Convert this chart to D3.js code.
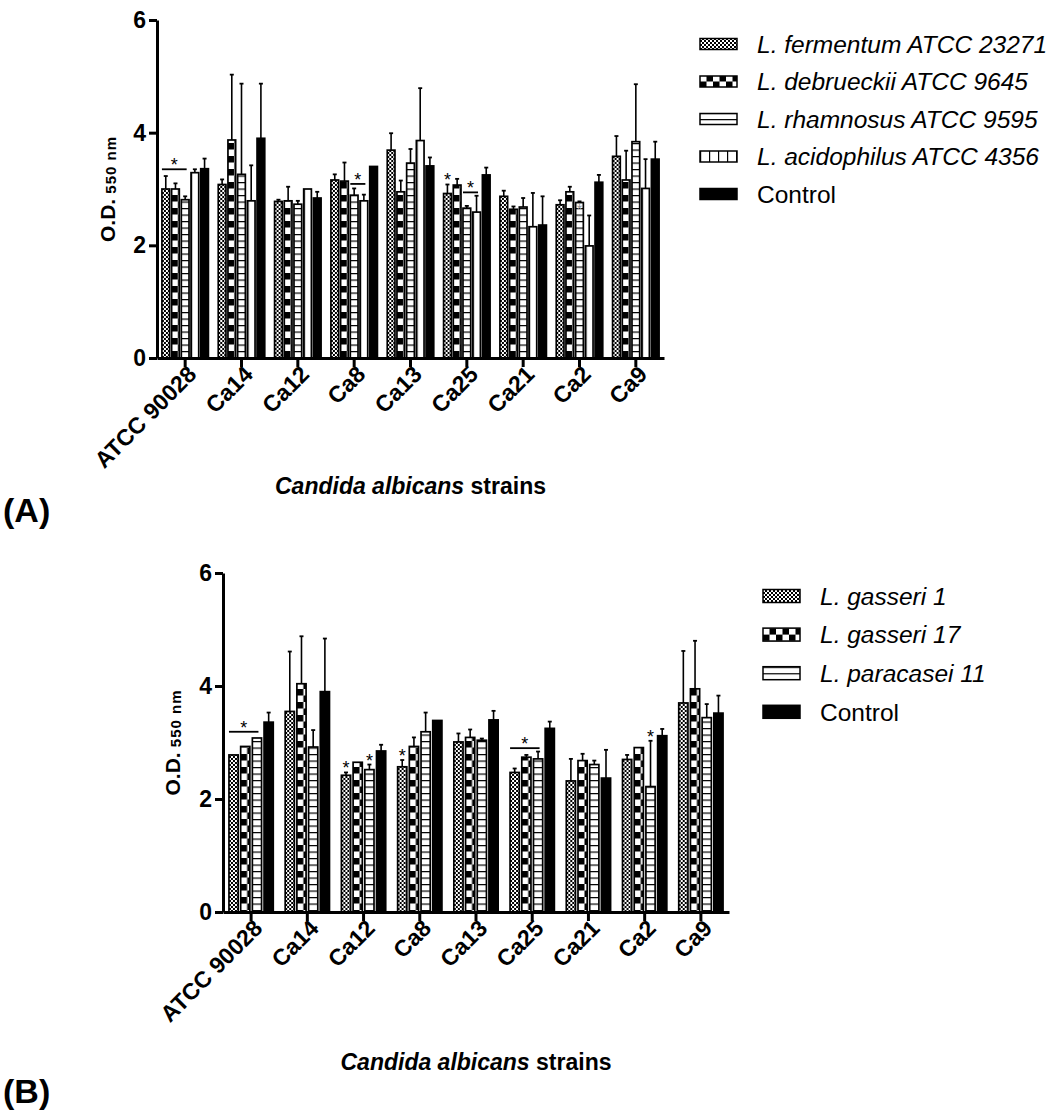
<!DOCTYPE html>
<html>
<head>
<meta charset="utf-8">
<script src="https://cdn.jsdelivr.net/npm/d3@7"></script>
<style>
  body { margin: 0; background: #fff; }
  text { font-family: "Liberation Sans", Arial, sans-serif; }
</style>
</head>
<body>
<div id="chart"></div>
<script>
// strains on the x axis (same for both panels)
var strains = ['ATCC 90028', 'Ca14', 'Ca12', 'Ca8', 'Ca13', 'Ca25', 'Ca21', 'Ca2', 'Ca9'];
var yTicks = [0, 2, 4, 6];

// panel A
var seriesA = ['L. fermentum ATCC 23271', 'L. debrueckii ATCC 9645', 'L. rhamnosus ATCC 9595', 'L. acidophilus ATCC 4356', 'Control'];
var fermentum     = [3.00, 3.08, 2.78, 3.16, 3.69, 2.92, 2.87, 2.72, 3.58];
var fermentumSD   = [0.23, 0.09, 0.03, 0.10, 0.30, 0.16, 0.10, 0.08, 0.36];
var debrueckii    = [3.00, 3.87, 2.79, 3.14, 2.95, 3.07, 2.64, 2.95, 3.16];
var debrueckiiSD  = [0.10, 1.16, 0.25, 0.33, 0.20, 0.11, 0.05, 0.09, 0.52];
var rhamnosus     = [2.81, 3.26, 2.73, 2.89, 3.46, 2.66, 2.68, 2.76, 3.84];
var rhamnosusSD   = [0.06, 1.61, 0.06, 0.12, 0.25, 0.04, 0.16, 0.02, 1.02];
var acidophilus   = [3.29, 2.79, 3.00, 2.79, 3.86, 2.59, 2.33, 1.99, 3.01];
var acidophilusSD = [0.06, 0.63, 0.00, 0.11, 0.93, 0.29, 0.60, 0.54, 0.52];
var controlA      = [3.36, 3.90, 2.84, 3.40, 3.41, 3.25, 2.36, 3.12, 3.53];
var controlASD    = [0.18, 0.97, 0.11, 0.00, 0.15, 0.13, 0.51, 0.13, 0.31];
var sigLinesA = [
  {strain: 'ATCC 90028', from: 0, to: 2, level: 3.35},
  {strain: 'Ca8', from: 2, to: 3, level: 3.09},
  {strain: 'Ca25', from: 2, to: 3, level: 2.94}
];
var sigStarsA = [
  {strain: 'Ca25', series: 0},
  {strain: 'Ca2', series: 2, faint: true}
];

// panel B
var seriesB = ['L. gasseri 1', 'L. gasseri 17', 'L. paracasei 11', 'Control'];
var gasseri1      = [2.78, 3.55, 2.42, 2.57, 3.01, 2.47, 2.32, 2.70, 3.70];
var gasseri1SD    = [0.00, 1.06, 0.05, 0.12, 0.15, 0.07, 0.39, 0.08, 0.92];
var gasseri17     = [2.93, 4.04, 2.65, 2.93, 3.09, 2.74, 2.68, 2.91, 3.95];
var gasseri17SD   = [0.00, 0.84, 0.00, 0.16, 0.14, 0.04, 0.12, 0.00, 0.85];
var paracasei11   = [3.08, 2.92, 2.52, 3.19, 3.04, 2.71, 2.61, 2.22, 3.44];
var paracasei11SD = [0.00, 0.30, 0.09, 0.34, 0.03, 0.13, 0.07, 0.81, 0.24];
var controlB      = [3.36, 3.90, 2.85, 3.39, 3.40, 3.25, 2.37, 3.12, 3.52];
var controlBSD    = [0.17, 0.94, 0.11, 0.00, 0.16, 0.12, 0.50, 0.12, 0.31];
var sigLinesB = [
  {strain: 'ATCC 90028', from: 0, to: 2, level: 3.19},
  {strain: 'Ca25', from: 0, to: 2, level: 2.90}
];
var sigStarsB = [
  {strain: 'Ca12', series: 0},
  {strain: 'Ca12', series: 2},
  {strain: 'Ca8', series: 0},
  {strain: 'Ca2', series: 2}
];

var svg = d3.select('#chart').append('svg')
  .attr('width', 1059)
  .attr('height', 1111);

// fill patterns
var defs = svg.append('defs');
var p = defs.append('pattern').attr('id', 'fine').attr('patternUnits', 'userSpaceOnUse')
  .attr('width', 4).attr('height', 4);
p.append('rect').attr('width', 4).attr('height', 4).attr('fill', '#fff');
p.append('rect').attr('width', 2).attr('height', 2).attr('fill', '#000');
p.append('rect').attr('x', 2).attr('y', 2).attr('width', 2).attr('height', 2).attr('fill', '#000');

p = defs.append('pattern').attr('id', 'check').attr('patternUnits', 'userSpaceOnUse')
  .attr('width', 13).attr('height', 13);
p.append('rect').attr('width', 13).attr('height', 13).attr('fill', '#fff');
p.append('rect').attr('width', 6.5).attr('height', 6.5).attr('fill', '#000');
p.append('rect').attr('x', 6.5).attr('y', 6.5).attr('width', 6.5).attr('height', 6.5).attr('fill', '#000');

p = defs.append('pattern').attr('id', 'hlines').attr('patternUnits', 'userSpaceOnUse')
  .attr('width', 10).attr('height', 6.5);
p.append('rect').attr('width', 10).attr('height', 6.5).attr('fill', '#fff');
p.append('line').attr('x1', 0).attr('x2', 10).attr('y1', 0.6).attr('y2', 0.6)
  .attr('stroke', '#000').attr('stroke-width', 1.2);

p = defs.append('pattern').attr('id', 'vlines').attr('patternUnits', 'userSpaceOnUse')
  .attr('width', 9).attr('height', 10);
p.append('rect').attr('width', 9).attr('height', 10).attr('fill', '#fff');
p.append('line').attr('x1', 0.6).attr('x2', 0.6).attr('y1', 0).attr('y2', 10)
  .attr('stroke', '#000').attr('stroke-width', 1.2);

function fillOf(f) { return f == 'solid' ? '#000' : 'url(#' + f + ')'; }

function drawPanel(cfg) {
  var x = d3.scaleBand().domain(strains).range([cfg.left, cfg.right]);
  var y = d3.scaleLinear().domain([0, 6]).range([cfg.bottom, cfg.top]);
  var inner = d3.scaleBand().domain(d3.range(cfg.series.length))
    .range([-cfg.groupW / 2, cfg.groupW / 2]).paddingInner(cfg.gap);
  var bw = inner.bandwidth();

  function barX(strain, s) { return x(strain) + x.bandwidth() / 2 + inner(s); }

  // bars
  cfg.series.forEach(function(name, s) {
    var rows = strains.map(function(st, i) {
      return {strain: st, v: cfg.means[s][i], sd: cfg.sds[s][i]};
    });
    var g = svg.append('g');
    var bars = g.selectAll('g.bar').data(rows).enter().append('g')
      .attr('transform', function(d) { return 'translate(' + barX(d.strain, s) + ',0)'; });
    bars.append('rect')
      .attr('x', 0)
      .attr('y', function(d) { return y(d.v); })
      .attr('width', bw)
      .attr('height', function(d) { return y(0) - y(d.v); })
      .attr('fill', fillOf(cfg.fills[s]))
      .attr('stroke', '#000')
      .attr('stroke-width', 1.7);
    // upper error bars
    var eb = bars.filter(function(d) { return d.sd > 0; });
    eb.append('line')
      .attr('x1', bw / 2).attr('x2', bw / 2)
      .attr('y1', function(d) { return y(d.v); })
      .attr('y2', function(d) { return y(d.v + d.sd); })
      .attr('stroke', '#000').attr('stroke-width', 1.6);
    eb.append('line')
      .attr('x1', bw / 2 - 2).attr('x2', bw / 2 + 2)
      .attr('y1', function(d) { return y(d.v + d.sd); })
      .attr('y2', function(d) { return y(d.v + d.sd); })
      .attr('stroke', '#000').attr('stroke-width', 1.8);
  });

  // significance lines and stars
  cfg.sigLines.forEach(function(d) {
    var x1 = barX(d.strain, d.from);
    var x2 = barX(d.strain, d.to) + bw / 2 + 1.5;
    svg.append('line')
      .attr('x1', x1).attr('x2', x2)
      .attr('y1', y(d.level)).attr('y2', y(d.level))
      .attr('stroke', '#000').attr('stroke-width', 1.8);
    svg.append('text')
      .attr('x', (x1 + x2) / 2).attr('y', y(d.level) - 7 + 9)
      .attr('text-anchor', 'middle').attr('font-size', 18)
      .text('*');
  });
  cfg.sigStars.forEach(function(d) {
    var s = d.series, i = strains.indexOf(d.strain);
    var top = d.faint ? y(cfg.means[s][i]) + 2 : y(cfg.means[s][i] + cfg.sds[s][i]) - 7;
    svg.append('text')
      .attr('x', barX(d.strain, s) + bw / 2).attr('y', top + 9)
      .attr('text-anchor', 'middle').attr('font-size', d.faint ? 14 : 18)
      .attr('fill', d.faint ? '#999' : '#000')
      .text('*');
  });

  // axes
  var yAxis = d3.axisLeft(y).tickValues(yTicks).tickFormat(d3.format('d'))
    .tickSize(8).tickPadding(3).tickSizeOuter(0);
  var gy = svg.append('g')
    .attr('transform', 'translate(' + cfg.left + ',0)')
    .call(yAxis);
  var xAxis = d3.axisBottom(x).tickSize(9).tickSizeOuter(0);
  var gx = svg.append('g')
    .attr('transform', 'translate(0,' + cfg.bottom + ')')
    .call(xAxis);
  [gx, gy].forEach(function(g) {
    g.selectAll('path, line').attr('stroke', '#000').attr('stroke-width', 3);
    g.selectAll('text').attr('fill', '#000')
      .style('font-weight', 'bold')
      .style('font-family', '"Liberation Sans", Arial, sans-serif');
  });
  gy.selectAll('text').style('font-size', '23px');
  gx.selectAll('.tick text')
    .style('font-size', '23px')
    .attr('x', null).attr('y', null)
    .attr('dy', '0.35em')
    .attr('transform', 'translate(7,12) rotate(-45)')
    .style('text-anchor', 'end');

  // y label
  var yl = svg.append('text')
    .attr('transform', 'translate(' + cfg.yLabelX + ',' + (cfg.top + cfg.bottom) / 2 + ') rotate(-90)')
    .attr('text-anchor', 'middle')
    .attr('font-weight', 'bold');
  yl.append('tspan').attr('font-size', 21).text('O.D.');
  yl.append('tspan').attr('font-size', 15).attr('dy', 1).attr('letter-spacing', 1).text(' 550 nm');

  // x title
  var xt = svg.append('text')
    .attr('x', (cfg.left + cfg.right) / 2).attr('y', cfg.titleY)
    .attr('text-anchor', 'middle')
    .attr('font-size', 23).attr('font-weight', 'bold');
  xt.append('tspan').attr('font-style', 'italic').text('Candida albicans');
  xt.append('tspan').text(' strains');

  // panel letter
  svg.append('text')
    .attr('x', 3).attr('y', cfg.letterY)
    .attr('font-size', 34).attr('font-weight', 'bold')
    .text(cfg.letter);

  // legend
  var lg = svg.append('g').selectAll('g').data(cfg.series).enter().append('g')
    .attr('transform', function(d, i) {
      return 'translate(' + cfg.legendX + ',' + (cfg.legendY + i * cfg.legendStep) + ')';
    });
  lg.append('rect')
    .attr('x', 0).attr('y', -cfg.swatchH / 2)
    .attr('width', 37).attr('height', cfg.swatchH)
    .attr('fill', function(d, i) { return fillOf(cfg.fills[i]); })
    .attr('stroke', '#000').attr('stroke-width', 1.5);
  lg.append('text')
    .attr('x', 57).attr('y', 0).attr('dy', '0.36em')
    .attr('font-size', 24.5)
    .attr('font-style', function(d) { return d == 'Control' ? 'normal' : 'italic'; })
    .text(function(d) { return d; });
}

drawPanel({
  series: seriesA,
  means: [fermentum, debrueckii, rhamnosus, acidophilus, controlA],
  sds: [fermentumSD, debrueckiiSD, rhamnosusSD, acidophilusSD, controlASD],
  fills: ['fine', 'check', 'hlines', 'vlines', 'solid'],
  sigLines: sigLinesA, sigStars: sigStarsA,
  left: 157, right: 664, top: 20, bottom: 358,
  groupW: 46.5, gap: 0.206,
  yLabelX: 115, titleY: 494, letter: '(A)', letterY: 522,
  legendX: 700, legendY: 44, legendStep: 37.5, swatchH: 11
});

drawPanel({
  series: seriesB,
  means: [gasseri1, gasseri17, paracasei11, controlB],
  sds: [gasseri1SD, gasseri17SD, paracasei11SD, controlBSD],
  fills: ['fine', 'check', 'hlines', 'solid'],
  sigLines: sigLinesB, sigStars: sigStarsB,
  left: 223, right: 729, top: 573, bottom: 912,
  groupW: 44.3, gap: 0.214,
  yLabelX: 180, titleY: 1070, letter: '(B)', letterY: 1103,
  legendX: 763, legendY: 596, legendStep: 38.6, swatchH: 13
});
</script>
</body>
</html>
